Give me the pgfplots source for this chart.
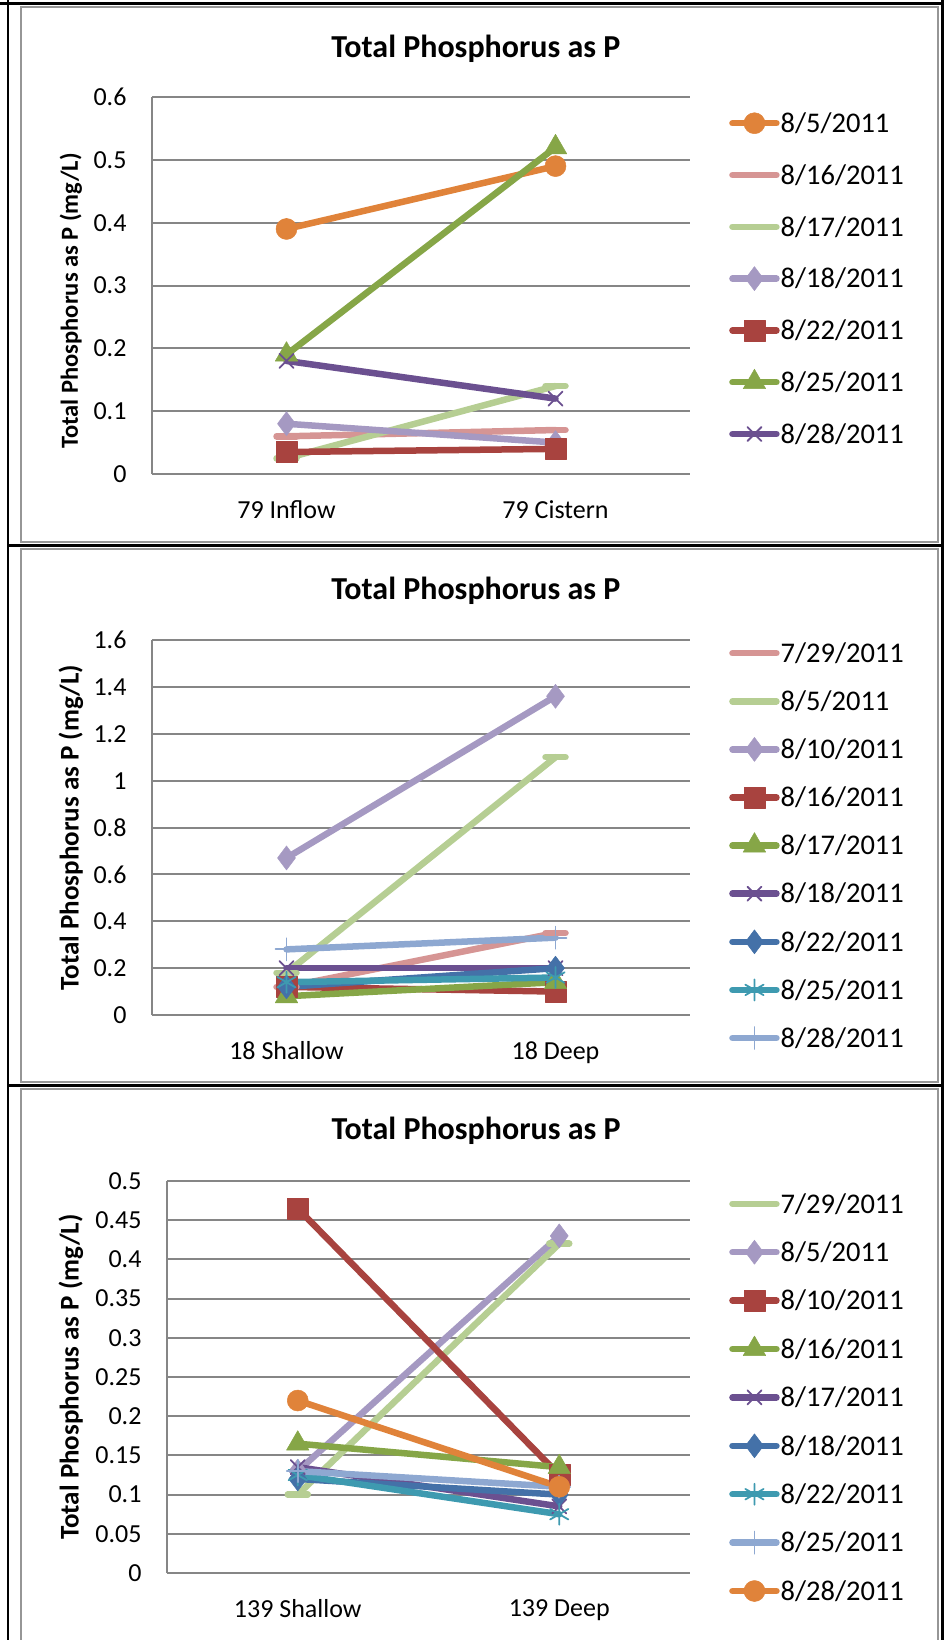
\documentclass[border=0pt]{standalone}
\usepackage{fontspec}
\setmainfont{Carlito}
\usepackage{pgfplots}
\pgfplotsset{compat=1.18}

\definecolor{cOrange}{RGB}{224,131,58}
\definecolor{cPink}{RGB}{214,149,148}
\definecolor{cLGreen}{RGB}{182,206,147}
\definecolor{cLav}{RGB}{165,153,194}
\definecolor{cRed}{RGB}{168,67,63}
\definecolor{cGreen}{RGB}{134,166,71}
\definecolor{cPurple}{RGB}{107,80,144}
\definecolor{cBlue}{RGB}{68,113,168}
\definecolor{cTeal}{RGB}{62,154,176}
\definecolor{cLBlue}{RGB}{142,168,209}
\definecolor{cGrid}{RGB}{134,134,134}
\definecolor{cFrame}{RGB}{150,150,150}

\pgfplotsset{
  panel/.style={
    scale only axis,
    xmin=-0.5, xmax=1.5, xtick={0,1},
    axis x line*=bottom, axis y line*=left,
    axis line style={draw=cGrid, line width=2pt, -},
    major tick length=0pt,
    ymajorgrids, grid style={draw=cGrid, line width=2pt},
    tick label style={font=\fontsize{26}{30}\selectfont, text=black},
    yticklabel style={xshift=-22pt},
    xticklabel style={yshift=-23pt},
    ylabel={Total Phosphorus as P (mg/L)},
    ylabel style={font=\bfseries\fontsize{27}{30}\selectfont, anchor=center},
    title={Total Phosphorus as P},
    title style={font=\bfseries\fontsize{32}{36}\selectfont, anchor=center},
    legend cell align=left,
    legend style={draw=none, fill=none, anchor=north west, inner sep=0pt,
      font=\fontsize{28.5}{32}\selectfont,
      nodes={inner sep=0pt, text height=22.4pt, text depth=4pt},
      column sep=1pt},
    legend image code/.code={%
      \draw[mark repeat=2,mark phase=2] plot coordinates {(0pt,0pt)(22pt,0pt)(44pt,0pt)};},
    every axis plot/.append style={line width=6.5pt, line cap=round, line join=round},
    clip=false,
  },
  sOrange/.style={color=cOrange, mark=*, mark size=10.5pt, mark options={solid, line width=0.5pt}},
  sPink/.style={color=cPink, mark=-, mark size=10pt, mark options={solid}},
  sLGreen/.style={color=cLGreen, mark=-, mark size=10pt, mark options={solid}},
  sLav/.style={color=cLav, mark=diamond*, mark size=12pt, mark options={solid, line width=0.5pt}},
  sRed/.style={color=cRed, mark=square*, mark size=10.5pt, mark options={solid, line width=0.5pt}},
  sGreen/.style={color=cGreen, mark=triangle*, mark size=13pt, mark options={solid, line width=0.5pt}},
  sPurple/.style={color=cPurple, mark=x, mark size=10pt, mark options={solid, line width=1.8pt}},
  sBlue/.style={color=cBlue, mark=diamond*, mark size=12pt, mark options={solid, line width=0.5pt}},
  sTeal/.style={color=cTeal, mark=asterisk, mark size=10.5pt, mark options={solid, line width=1.8pt}},
  sLBlue/.style={color=cLBlue, mark=+, mark size=11pt, mark options={solid, line width=1.8pt}},
}

\begin{document}
\begin{tikzpicture}
\useasboundingbox (0pt,0pt) rectangle (944pt,-1640pt);
% frames
\draw[cFrame, line width=2pt] (21pt,-7pt) rectangle (938pt,-542pt);
\draw[cFrame, line width=2pt] (21pt,-549pt) rectangle (938pt,-1082pt);
\draw[cFrame, line width=2pt] (21pt,-1089pt) rectangle (938pt,-1660pt);
\draw[black, line width=3pt] (0pt,-4pt) -- (944pt,-4pt);
\draw[black, line width=2.5pt] (8pt,0pt) -- (8pt,-1640pt);
\draw[black, line width=2.5pt] (942.5pt,0pt) -- (942.5pt,-1640pt);
\draw[black, line width=2.5pt] (8pt,-545.5pt) -- (944pt,-545.5pt);
\draw[black, line width=2.5pt] (8pt,-1085.5pt) -- (944pt,-1085.5pt);

% Panel 1
\begin{axis}[panel, at={(152pt,-474pt)}, anchor=south west,
  width=538pt, height=377pt,
  ymin=0, ymax=0.6,
  ytick={0,0.1,0.2,0.3,0.4,0.5,0.6},
  yticklabels={0,0.1,0.2,0.3,0.4,0.5,0.6},
  xticklabels={79 Inflow,79 Cistern},
  ylabel style={at={(axis description cs:-0.1506,0.459)}, font=\bfseries\fontsize{24.5}{28}\selectfont},
  title style={at={(axis description cs:0.602,1.1126)}},
  legend style={at={(axis description cs:1.0725,0.9660)}, row sep=25.4pt},
]
\addplot[sOrange] coordinates {(0,0.39) (1,0.49)};
\addplot[sPink] coordinates {(0,0.06) (1,0.07)};
\addplot[sLGreen] coordinates {(0,0.025) (1,0.14)};
\addplot[sLav] coordinates {(0,0.08) (1,0.05)};
\addplot[sRed] coordinates {(0,0.035) (1,0.04)};
\addplot[sGreen] coordinates {(0,0.19) (1,0.52)};
\addplot[sPurple] coordinates {(0,0.18) (1,0.12)};
\legend{8/5/2011,8/16/2011,8/17/2011,8/18/2011,8/22/2011,8/25/2011,8/28/2011}
\end{axis}

% Panel 2
\begin{axis}[panel, at={(152pt,-1015pt)}, anchor=south west,
  width=538pt, height=375pt,
  ymin=0, ymax=1.6,
  ytick={0,0.2,0.4,0.6,0.8,1,1.2,1.4,1.6},
  yticklabels={0,0.2,0.4,0.6,0.8,1,1.2,1.4,1.6},
  xticklabels={18 Shallow,18 Deep},
  ylabel style={at={(axis description cs:-0.1506,0.5)}},
  title style={at={(axis description cs:0.602,1.1163)}},
  legend style={at={(axis description cs:1.0725,1.0005)}, row sep=21.7pt},
]
\addplot[sPink] coordinates {(0,0.12) (1,0.35)};
\addplot[sLGreen] coordinates {(0,0.18) (1,1.10)};
\addplot[sLav] coordinates {(0,0.67) (1,1.36)};
\addplot[sRed] coordinates {(0,0.12) (1,0.10)};
\addplot[sGreen] coordinates {(0,0.08) (1,0.14)};
\addplot[sPurple] coordinates {(0,0.20) (1,0.20)};
\addplot[sBlue] coordinates {(0,0.12) (1,0.20)};
\addplot[sTeal] coordinates {(0,0.14) (1,0.16)};
\addplot[sLBlue] coordinates {(0,0.28) (1,0.33)};
\legend{7/29/2011,8/5/2011,8/10/2011,8/16/2011,8/17/2011,8/18/2011,8/22/2011,8/25/2011,8/28/2011}
\end{axis}

% Panel 3
\begin{axis}[panel, at={(167pt,-1573pt)}, anchor=south west,
  width=523pt, height=392pt,
  ymin=0, ymax=0.5,
  ytick={0,0.05,0.1,0.15,0.2,0.25,0.3,0.35,0.4,0.45,0.5},
  yticklabels={0,0.05,0.1,0.15,0.2,0.25,0.3,0.35,0.4,0.45,0.5},
  xticklabels={139 Shallow,139 Deep},
  ylabel style={at={(axis description cs:-0.1836,0.5)}},
  title style={at={(axis description cs:0.591,1.1136)}},
  legend style={at={(axis description cs:1.0746,0.9760)}, row sep=22.0pt},
]
\addplot[sLGreen] coordinates {(0,0.10) (1,0.42)};
\addplot[sLav] coordinates {(0,0.13) (1,0.43)};
\addplot[sRed] coordinates {(0,0.465) (1,0.125)};
\addplot[sGreen] coordinates {(0,0.165) (1,0.135)};
\addplot[sPurple] coordinates {(0,0.135) (1,0.085)};
\addplot[sBlue] coordinates {(0,0.12) (1,0.10)};
\addplot[sTeal] coordinates {(0,0.125) (1,0.075)};
\addplot[sLBlue] coordinates {(0,0.13) (1,0.11)};
\addplot[sOrange] coordinates {(0,0.22) (1,0.11)};
\legend{7/29/2011,8/5/2011,8/10/2011,8/16/2011,8/17/2011,8/18/2011,8/22/2011,8/25/2011,8/28/2011}
\end{axis}
\end{tikzpicture}
\end{document}
